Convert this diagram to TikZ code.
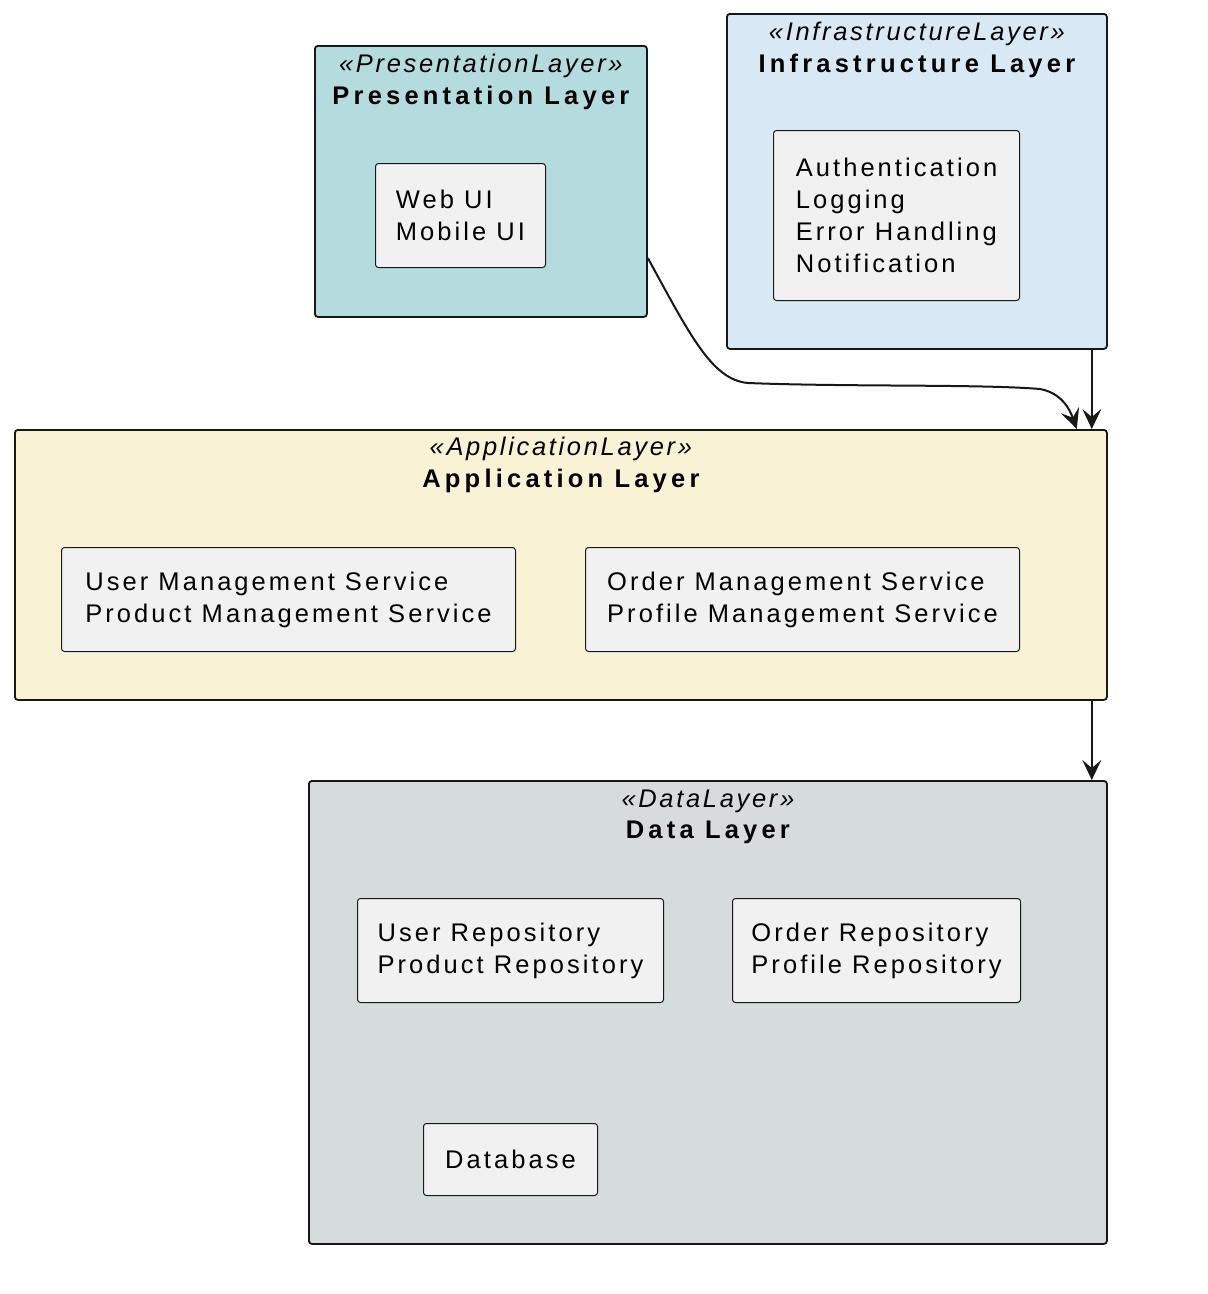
\documentclass[tikz,border=0pt]{standalone}
\usepackage{fontspec}
\setmainfont{Liberation Sans}[LetterSpace=12]
\newfontfamily\titlefont{Liberation Sans Bold}[LetterSpace=16.5]
\newfontfamily\stereofont{Liberation Sans Italic}[LetterSpace=10.5]
\usetikzlibrary{arrows.meta,calc}
\definecolor{presfill}{RGB}{180,220,222}
\definecolor{infrafill}{RGB}{217,232,245}
\definecolor{appfill}{RGB}{249,242,212}
\definecolor{datafill}{RGB}{214,220,220}
\definecolor{itemfill}{RGB}{241,241,241}
\definecolor{edge}{RGB}{24,24,24}
\begin{document}
\begin{tikzpicture}[x=1pt,y=-1pt,
  layer/.style={draw=edge,line width=1.8pt,rounded corners=3pt,anchor=north west,inner sep=0pt},
  item/.style={draw=edge,line width=1pt,fill=itemfill,rounded corners=3pt,anchor=north west,align=left,inner sep=0pt,font=\fontsize{25.5}{32}\selectfont},
  stereo/.style={font=\stereofont\fontsize{25.5}{32}\selectfont,inner sep=0pt},
  ltitle/.style={font=\titlefont\fontsize{25.5}{32}\selectfont,inner sep=0pt},
  arr/.style={draw=edge,line width=2pt,-{Stealth[length=20pt,width=19pt,inset=8pt]}}]
\useasboundingbox[fill=white] (0,0) rectangle (1208,1294);
% layers
\node[layer,fill=presfill,minimum width=332,minimum height=271] (pres) at (314,45) {};
\node[layer,fill=infrafill,minimum width=380,minimum height=335] (infra) at (726,13) {};
\node[layer,fill=appfill,minimum width=1092,minimum height=270] (app) at (14,429) {};
\node[layer,fill=datafill,minimum width=798,minimum height=463] (data) at (308,780) {};
% titles
\node[stereo] (presst) at ($(pres.north)+(0,21)$) {«PresentationLayer»};
\node[ltitle] (prest) at ($(pres.north)+(0,53)$) {Presentation Layer};
\node[stereo] (infrast) at ($(infra.north)+(0,21)$) {«InfrastructureLayer»};
\node[ltitle] (infrat) at ($(infra.north)+(0,53)$) {Infrastructure Layer};
\node[stereo] (appst) at ($(app.north)+(0,20)$) {«ApplicationLayer»};
\node[ltitle] (appt) at ($(app.north)+(0,52)$) {Application Layer};
\node[stereo] (datast) at ($(data.north)+(0,21)$) {«DataLayer»};
\node[ltitle] (datat) at ($(data.north)+(0,52)$) {Data Layer};
% items
\node[item,minimum width=170,minimum height=104] (ui) at (375,163) {Web UI\\Mobile UI};
\node[item,minimum width=246,minimum height=170] (infraitems) at (773,130) {Authentication\\Logging\\Error Handling\\Notification};
\node[item,minimum width=454,minimum height=104] (svc1) at (61,547) {User Management Service\\Product Management Service};
\node[item,minimum width=434,minimum height=104] (svc2) at (585,547) {Order Management Service\\Profile Management Service};
\node[item,minimum width=306,minimum height=104] (repo1) at (357,898) {User Repository\\Product Repository};
\node[item,minimum width=288,minimum height=104] (repo2) at (732,898) {Order Repository\\Profile Repository};
\node[item,minimum width=174,minimum height=72] (db) at (423,1123) {Database};
% connectors
\draw[arr] ($(infra.south east)+(-16,0)$) -- ($(app.north east)+(-16,0)$);
\draw[arr] ($(app.south east)+(-16,0)$) -- ($(data.north east)+(-16,0)$);
\draw[arr] ($(pres.north east)+(0,213)$) .. controls (690,335) and (712,380) .. (748,383)
  .. controls (850,387) and (980,384) .. (1040,389)
  .. controls (1062,393) and (1070,410) .. ($(app.north east)+(-31,0)$);
\end{tikzpicture}
\end{document}
